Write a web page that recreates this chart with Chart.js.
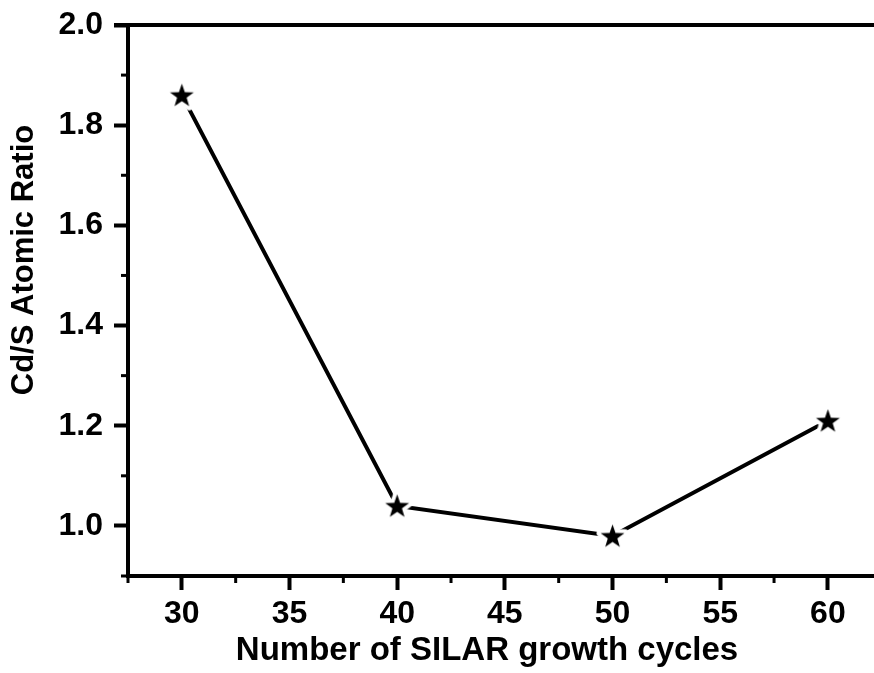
<!DOCTYPE html>
<html>
<head>
<meta charset="utf-8">
<script src="https://cdn.jsdelivr.net/npm/chart.js@4.4.0/dist/chart.umd.min.js"></script>
<style>
  html, body { margin: 0; padding: 0; background: #fff; }
</style>
</head>
<body>
<canvas id="ratioChart" width="874" height="673"></canvas>
<script>
const cycles = [30, 40, 50, 60];
const ratioValues = [1.86, 1.04, 0.98, 1.21];
const xTickValues = [30, 35, 40, 45, 50, 55, 60];
const yTickValues = [1.0, 1.2, 1.4, 1.6, 1.8, 2.0];
const xMinorValues = [27.5, 32.5, 37.5, 42.5, 47.5, 52.5, 57.5];
const yMinorValues = [0.9, 1.1, 1.3, 1.5, 1.7, 1.9];

const FONT = "'Liberation Sans', Arial, sans-serif";

// filled five point star with a white halo, so the line stops short of it
function makeStar(outer) {
    const c = document.createElement('canvas');
    const size = Math.ceil(outer * 2 + 12);
    c.width = size; c.height = size;
    const g = c.getContext('2d');
    const cx = size / 2, cy = size / 2 + 1;
    const inner = outer * 0.4;
    g.beginPath();
    for (let i = 0; i < 10; i++) {
        const r = i % 2 === 0 ? outer : inner;
        const a = -Math.PI / 2 + i * Math.PI / 5;
        g.lineTo(cx + r * Math.cos(a), cy + r * Math.sin(a));
    }
    g.closePath();
    g.lineJoin = 'round';
    g.lineWidth = 8;
    g.strokeStyle = '#fff';
    g.stroke();
    g.fillStyle = '#000';
    g.fill();
    return c;
}

const frame = {
    id: 'frame',
    afterDraw(chart) {
        const ctx = chart.ctx;
        const x = chart.scales.x, y = chart.scales.y;
        const area = chart.chartArea;
        ctx.save();
        ctx.strokeStyle = '#000';
        ctx.lineWidth = 3;
        // minor ticks
        xMinorValues.forEach(v => {
            const px = x.getPixelForValue(v);
            ctx.beginPath();
            ctx.moveTo(px, area.bottom);
            ctx.lineTo(px, area.bottom + 7);
            ctx.stroke();
        });
        yMinorValues.forEach(v => {
            const py = y.getPixelForValue(v);
            ctx.beginPath();
            ctx.moveTo(area.left, py);
            ctx.lineTo(area.left - 7, py);
            ctx.stroke();
        });
        // top frame line, and the bottom axis runs on past the crop edge
        ctx.lineWidth = 4;
        ctx.beginPath();
        ctx.moveTo(area.left - 14, y.getPixelForValue(2.0));
        ctx.lineTo(chart.width, y.getPixelForValue(2.0));
        ctx.moveTo(area.right - 2, area.bottom);
        ctx.lineTo(chart.width, area.bottom);
        ctx.stroke();

        // axis titles
        ctx.fillStyle = '#000';
        ctx.textAlign = 'center';
        ctx.textBaseline = 'alphabetic';
        ctx.font = 'bold 33px ' + FONT;
        ctx.fillText('Number of SILAR growth cycles', 487, 660);
        ctx.translate(33, 260);
        ctx.rotate(-Math.PI / 2);
        ctx.font = 'bold 31px ' + FONT;
        ctx.fillText('Cd/S Atomic Ratio', 0, 0);
        ctx.restore();
    }
};

const ctx = document.getElementById('ratioChart').getContext('2d');
new Chart(ctx, {
    type: 'line',
    data: {
        datasets: [{
            data: cycles.map((c, i) => ({ x: c, y: ratioValues[i] })),
            borderColor: '#000',
            borderWidth: 4,
            pointStyle: makeStar(12.5),
            tension: 0,
            fill: false
        }]
    },
    options: {
        responsive: false,
        devicePixelRatio: 1,
        animation: false,
        layout: { padding: { top: 25, right: 0, left: 0, bottom: 0 } },
        plugins: {
            legend: { display: false },
            tooltip: { enabled: false }
        },
        scales: {
            x: {
                type: 'linear',
                min: 27.5,
                max: 61.77,
                afterBuildTicks: s => { s.ticks = xTickValues.map(v => ({ value: v })); },
                afterFit: s => { s.height = 97; s.paddingLeft = 0; s.paddingRight = 0; },
                ticks: {
                    color: '#000',
                    padding: 5,
                    maxRotation: 0,
                    font: { family: FONT, size: 32, weight: 'bold' },
                    callback: v => String(v)
                },
                grid: {
                    drawOnChartArea: false,
                    drawTicks: true,
                    tickLength: 14,
                    tickWidth: 4,
                    tickColor: '#000'
                },
                border: { display: true, color: '#000', width: 4 }
            },
            y: {
                min: 0.9,
                max: 2.0,
                afterBuildTicks: s => { s.ticks = yTickValues.map(v => ({ value: v })); },
                afterFit: s => { s.width = 128; s.paddingTop = 0; s.paddingBottom = 0; },
                ticks: {
                    color: '#000',
                    padding: 11,
                    font: { family: FONT, size: 32, weight: 'bold' },
                    callback: v => Number(v).toFixed(1)
                },
                grid: {
                    drawOnChartArea: false,
                    drawTicks: true,
                    tickLength: 14,
                    tickWidth: 4,
                    tickColor: '#000'
                },
                border: { display: true, color: '#000', width: 4 }
            }
        }
    },
    plugins: [frame]
});
</script>
</body>
</html>
